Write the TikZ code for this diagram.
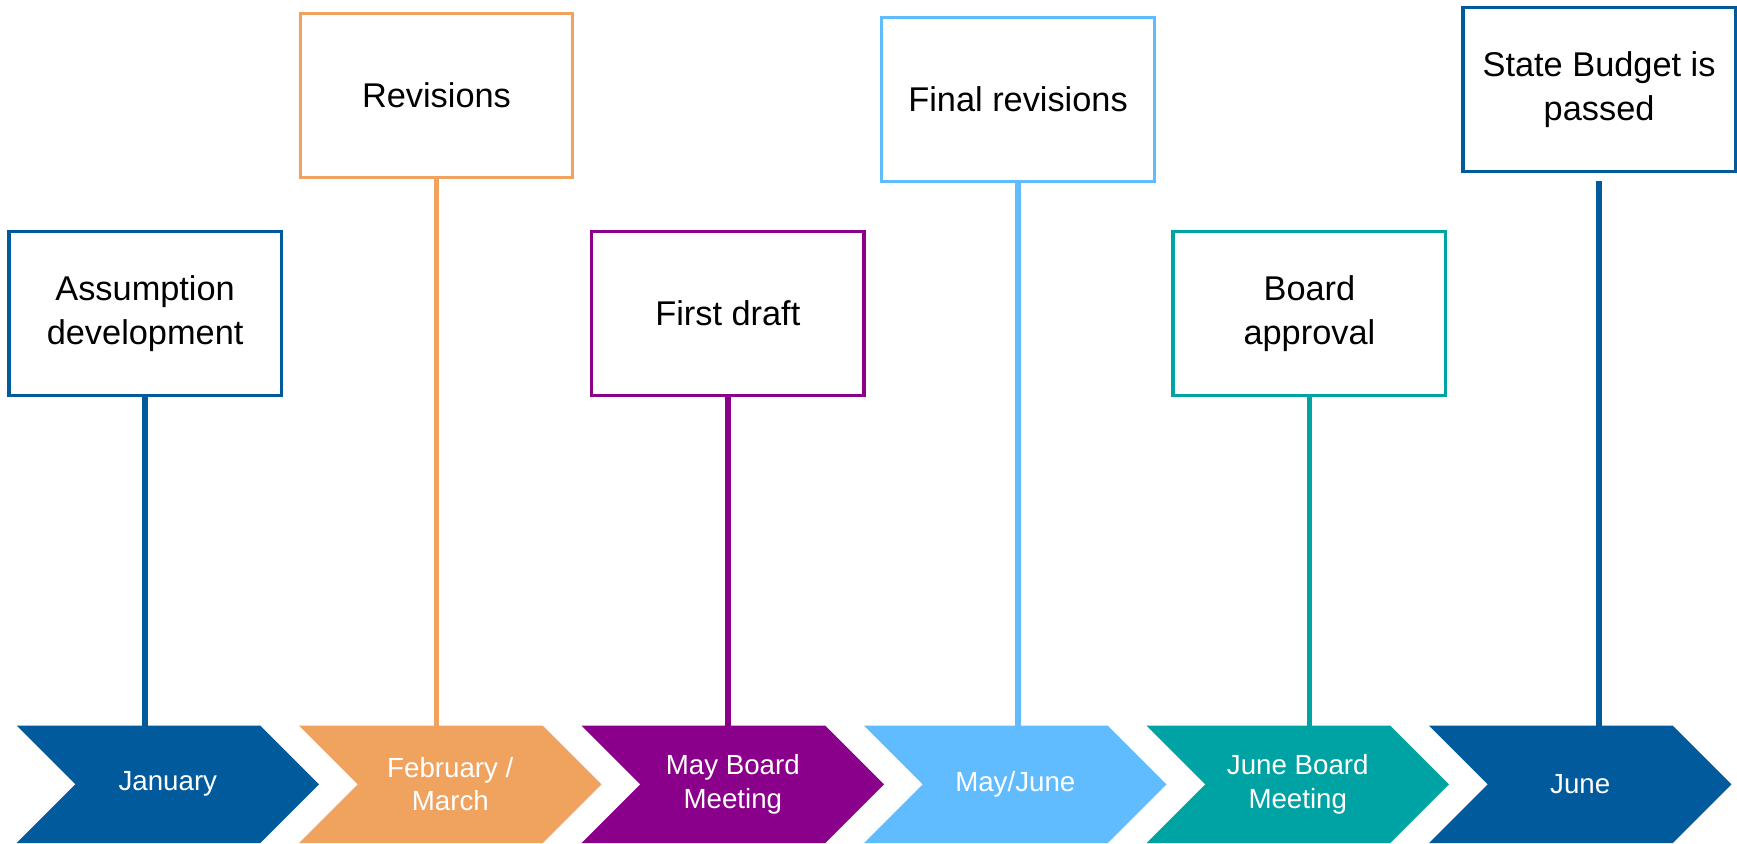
\documentclass[tikz,border=0pt]{standalone}
\usepackage{fontspec}
\setmainfont{Liberation Sans}
\definecolor{cdblue}{HTML}{005A9C}
\definecolor{corange}{HTML}{F0A35E}
\definecolor{cpurple}{HTML}{8B008B}
\definecolor{clblue}{HTML}{61BCFF}
\definecolor{cteal}{HTML}{00A3A3}
\tikzset{
 evbox/.style={draw=#1, line width=3pt, fill=white, minimum width=246pt, minimum height=148pt, inner sep=0pt, align=center, font=\fontsize{31}{40}\selectfont},
 stem/.style={draw=#1, line width=5pt},
 chevtxt/.style={text=white, align=center, inner sep=0pt, font=\fontsize{25}{30}\selectfont},
}
\begin{document}
\begin{tikzpicture}[x=1pt,y=-1pt]
\useasboundingbox (0,0) rectangle (1568,761);
% chevrons
\foreach \i/\l/\c/\t in {1/15/cdblue/January, 2/270/corange/{February /\\March}, 3/525/cpurple/{May Board\\Meeting}, 4/780/clblue/{May/June}, 5/1035/cteal/{June Board\\Meeting}, 6/1290/cdblue/June}{
  \fill[\c] (\l,655) -- (\l+220,655) -- (\l+273,708) -- (\l+220,761) -- (\l,761) -- (\l+53,708) -- cycle;
  \coordinate (top\i) at (\l+136.5,655);
  \node[chevtxt] (m\i) at (\l+136.5,708) {\t};
}
% boxes
\node[evbox=cdblue] (b1) at (131,283) {Assumption\\development};
\node[evbox=corange] (b2) at (394,86) {Revisions};
\node[evbox=cpurple] (b3) at (657,283) {First draft};
\node[evbox=clblue] (b4) at (919,90) {Final revisions};
\node[evbox=cteal] (b5) at (1182,283) {Board\\approval};
\node[evbox=cdblue] (b6) at (1443.5,81) {State Budget is\\passed};
% stems
\draw[stem=cdblue] (b1.south) -- (b1.south |- top1);
\draw[stem=corange] (b2.south) -- (b2.south |- top2);
\draw[stem=cpurple] (b3.south) -- (b3.south |- top3);
\draw[stem=clblue] (b4.south) -- (b4.south |- top4);
\draw[stem=cteal] (b5.south) -- (b5.south |- top5);
\draw[stem=cdblue] ([yshift=-7pt]b6.south) -- (b6.south |- top6);
\end{tikzpicture}
\end{document}
